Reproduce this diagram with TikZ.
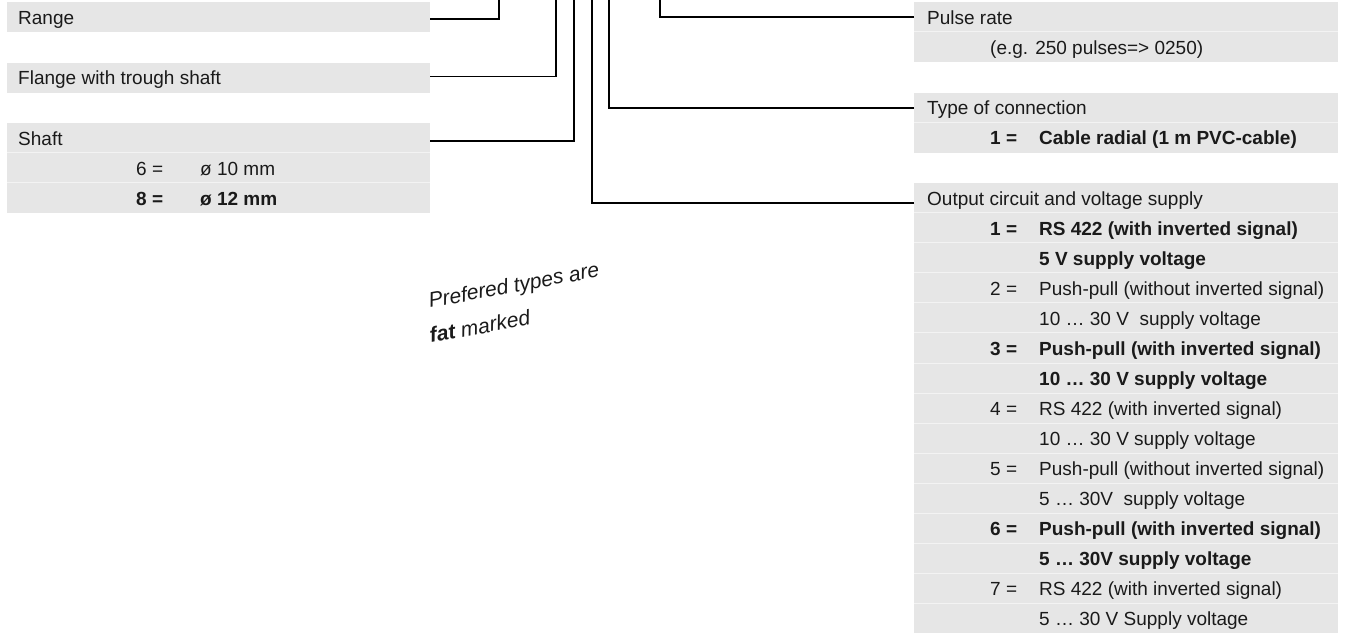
\documentclass[tikz,border=0pt]{standalone}
\usepackage{fontspec}
\setmainfont{Liberation Sans}
\usetikzlibrary{calc}
\definecolor{rowgray}{HTML}{E6E6E6}
\definecolor{rowsep}{HTML}{F3F3F3}
\definecolor{ink}{HTML}{1A1A1A}
\tikzset{
  panel/.style={fill=rowgray, draw=none, inner sep=0pt, anchor=north west,
                minimum height=30pt},
  leftpanel/.style={panel, minimum width=423pt},
  rightpanel/.style={panel, minimum width=424pt},
  sepline/.style={draw=rowsep, line width=1pt},
  lbl/.style={anchor=base west, inner sep=0pt, text=ink,
              font=\fontsize{19}{22}\selectfont},
  lblb/.style={lbl, font=\fontsize{19}{22}\selectfont\bfseries},
  link/.style={draw=black, line width=1.5pt},
  note/.style={anchor=base west, inner sep=0pt, rotate=10.5, text=ink,
               font=\fontsize{21}{24}\selectfont\itshape}
}
\begin{document}
\begin{tikzpicture}[x=1pt,y=-1pt]
\useasboundingbox (0,0) rectangle (1347,636);

% ---------- left column ----------
\node[leftpanel] (range) at (7,2) {};
\node[lbl] (rangetxt) at (18,24.5) {Range};

\node[leftpanel] (flange) at (7,62.5) {};
\node[lbl] (flangetxt) at (18,85) {Flange with trough shaft};

\node[leftpanel] (shaft) at (7,123) {};
\node[leftpanel] (shaftA) at (7,153) {};
\node[leftpanel] (shaftB) at (7,183) {};
\draw[sepline] (shaftA.north west) -- (shaftA.north east);
\draw[sepline] (shaftB.north west) -- (shaftB.north east);
\node[lbl]  (shafttxt) at (18,145.5)  {Shaft};
\node[lbl]  (s6k) at (136,175.5) {6 =};
\node[lbl]  (s6v) at (200,175.5) {ø 10 mm};
\node[lblb] (s8k) at (136,205.5) {8 =};
\node[lblb] (s8v) at (200,205.5) {ø 12 mm};

% ---------- right column ----------
\node[rightpanel] (pulse) at (914,2) {};
\node[rightpanel] (pulseA) at (914,32) {};
\draw[sepline] (pulseA.north west) -- (pulseA.north east);
\node[lbl] (pulsetxt) at (927,24.5) {Pulse rate};
\node[lbl] (pulseex) at (990,54.5) {(e.g. 250 pulses=> 0250)};

\node[rightpanel] (conn) at (914,92.5) {};
\node[rightpanel] (connA) at (914,122.5) {};
\draw[sepline] (connA.north west) -- (connA.north east);
\node[lbl]  (conntxt) at (927,115) {Type of connection};
\node[lblb] (c1k) at (990,145) {1 =};
\node[lblb] (c1v) at (1039,145) {Cable radial (1 m PVC-cable)};

\node[rightpanel, minimum height=450pt] (outbox) at (914,183) {};
\node[rightpanel] (out) at (914,183) {};
\foreach \r in {1,...,14}
  \draw[sepline] (914,183+30*\r) -- (1338,183+30*\r);
\node[lbl] (outtxt) at (927,205.5) {Output circuit and voltage supply};

\node[lblb] (o1k)  at (990,235.5)  {1 =};
\node[lblb] (o1a)  at (1039,235.5) {RS 422 (with inverted signal)};
\node[lblb] (o1b)  at (1039,265.5) {5 V supply voltage};
\node[lbl]  (o2k)  at (990,295.5)  {2 =};
\node[lbl]  (o2a)  at (1039,295.5) {Push-pull (without inverted signal)};
\node[lbl]  (o2b)  at (1039,325.5) {10 … 30 V~ supply voltage};
\node[lblb] (o3k)  at (990,355.5)  {3 =};
\node[lblb] (o3a)  at (1039,355.5) {Push-pull (with inverted signal)};
\node[lblb] (o3b)  at (1039,385.5) {10 … 30 V supply voltage};
\node[lbl]  (o4k)  at (990,415.5)  {4 =};
\node[lbl]  (o4a)  at (1039,415.5) {RS 422 (with inverted signal)};
\node[lbl]  (o4b)  at (1039,445.5) {10 … 30 V supply voltage};
\node[lbl]  (o5k)  at (990,475.5)  {5 =};
\node[lbl]  (o5a)  at (1039,475.5) {Push-pull (without inverted signal)};
\node[lbl]  (o5b)  at (1039,505.5) {5 … 30V~ supply voltage};
\node[lblb] (o6k)  at (990,535.5)  {6 =};
\node[lblb] (o6a)  at (1039,535.5) {Push-pull (with inverted signal)};
\node[lblb] (o6b)  at (1039,565.5) {5 … 30V supply voltage};
\node[lbl]  (o7k)  at (990,595.5)  {7 =};
\node[lbl]  (o7a)  at (1039,595.5) {RS 422 (with inverted signal)};
\node[lbl]  (o7b)  at (1039,625.5) {5 … 30 V Supply voltage};

% ---------- connectors running up to the type code ----------
\coordinate (tRange)  at (499,0);
\coordinate (tFlange) at (556,0);
\coordinate (tShaft)  at (574,0);
\coordinate (tOut)    at (592,0);
\coordinate (tConn)   at (609,0);
\coordinate (tPulse)  at (660,0);

\draw[link] (range.east)  ++(0,2)   -| (tRange);
\draw[link] (flange.east) ++(0,-1)  -| (tFlange);
\draw[link] (shaft.east)  ++(0,3)   -| (tShaft);
\draw[link] (out.west)    ++(0,5)   -| (tOut);
\draw[link] (conn.west)   ++(0,0.5) -| (tConn);
\draw[link] (pulse.west)  ++(0,0)   -| (tPulse);

% ---------- remark ----------
\node[note] (note1) at (430,308) {Prefered types are};
\node[note] (note2) at (431,343) {{\bfseries fat} marked};
\end{tikzpicture}
\end{document}
